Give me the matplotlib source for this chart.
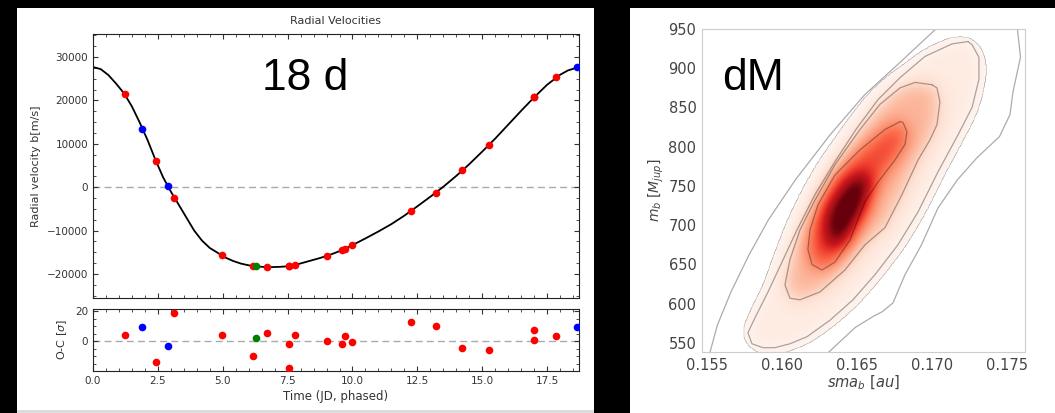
import numpy as np
import matplotlib.pyplot as plt
from matplotlib.patches import Rectangle
from matplotlib.path import Path
from matplotlib.ticker import AutoMinorLocator

W, H = 1055, 413

# radial velocity points: phase [d], RV [m/s], O-C [sigma], instrument colour
rv_t = [1.24, 1.90, 2.43, 2.88, 3.13, 4.97, 6.15, 6.28, 6.71, 7.55, 7.57, 7.80,
        9.02, 9.58, 9.70, 9.99, 12.24, 13.22, 14.23, 15.25, 16.99, 17.01, 17.85, 18.65]
rv_v = [21390, 13380, 6000, 300, -2380, -15690, -18230, -18230, -18390, -18230, -18230, -17840,
        -15850, -14540, -14230, -13380, -5540, -1230, 3850, 9620, 20700, 20700, 25380, 27620]
rv_oc = [4.0, 9.1, -13.6, -3.1, 18.9, 4.4, -9.6, 2.4, 5.6, -17.8, -2.0, 4.0,
         0.2, -1.6, 3.3, -0.4, 12.7, 10.2, -4.7, -6.0, 7.3, 0.7, 3.6, 9.1]
rv_col = ["red", "blue", "red", "blue", "red", "red", "red", "green", "red", "red", "red", "red",
          "red", "red", "red", "red", "red", "red", "red", "red", "red", "red", "red", "blue"]

# best-fit model curve
model_t = [0.0, 0.3, 0.6, 0.9, 1.2, 1.5, 1.8, 2.1, 2.4, 2.7, 3.0, 3.3, 3.6, 3.9, 4.2, 4.5,
           4.8, 5.1, 5.4, 5.7, 6.0, 6.3, 6.6, 6.9, 7.2, 7.5, 7.8, 8.1, 8.4, 8.7, 9.0, 9.3,
           9.6, 9.9, 10.5, 11.0, 11.5, 12.0, 12.5, 13.0, 13.5, 14.0, 14.5, 15.0, 15.5,
           16.0, 16.5, 17.0, 17.5, 18.0, 18.3, 18.73]
model_v = [27700, 27200, 25800, 23800, 21600, 18600, 14900, 10900, 6400, 2300, -1000, -4000,
           -7000, -10000, -12300, -14000, -15100, -16200, -17000, -17600, -18000, -18250,
           -18380, -18400, -18350, -18230, -17900, -17400, -16900, -16400, -15850, -15200,
           -14500, -13650, -11800, -10200, -8500, -6550, -4400, -2200, 100, 2600, 5300, 8200,
           11200, 14400, 17600, 20700, 23600, 25900, 26900, 27700]

# posterior contours (sma_b [au], m_b [M_jup])
c1_x = [0.1713, 0.1702, 0.1679, 0.1655, 0.1632, 0.1609, 0.1591, 0.1578, 0.1566, 0.1557,
        0.1552, 0.1549, 0.1625, 0.1631, 0.1649, 0.1661, 0.1667, 0.1674, 0.1682, 0.1693,
        0.1704, 0.1717, 0.1730, 0.1745, 0.1752, 0.1754, 0.1759, 0.1757, 0.1755]
c1_y = [970, 949, 908, 866, 815, 758, 707, 662, 615, 573, 538, 520, 520, 538, 570, 584,
        590, 601, 637, 675, 722, 758, 786, 813, 841, 870, 914, 949, 970]
c2_x = [0.17240, 0.17133, 0.16953, 0.16787, 0.16640, 0.16493, 0.16353, 0.16220, 0.16100,
        0.16000, 0.15907, 0.15820, 0.15773, 0.15800, 0.15873, 0.15953, 0.16053, 0.16167,
        0.16320, 0.16473, 0.16620, 0.16773, 0.16907, 0.17040, 0.17173, 0.17267, 0.17313,
        0.17313, 0.17267]
c2_y = [934, 931, 915, 888, 860, 822, 781, 739, 694, 653, 615, 582, 563, 549, 544, 544,
        549, 558, 579, 605, 637, 675, 717, 768, 815, 850, 886, 914, 930]
c3_x = [0.17000, 0.16887, 0.16787, 0.16653, 0.16520, 0.16353, 0.16220, 0.16120, 0.16053,
        0.16020, 0.16053, 0.16120, 0.16253, 0.16420, 0.16553, 0.16687, 0.16800, 0.16907,
        0.16987, 0.17033, 0.17053, 0.17033]
c3_y = [879, 882, 875, 854, 822, 777, 732, 694, 656, 624, 607, 605, 615, 643, 675, 697,
        739, 783, 809, 828, 857, 875]
c4_x = [0.16787, 0.16687, 0.16520, 0.16353, 0.16240, 0.16187, 0.16173, 0.16200, 0.16267,
        0.16353, 0.16453, 0.16553, 0.16640, 0.16753, 0.16820, 0.16833, 0.16807]
c4_y = [832, 822, 796, 764, 726, 694, 669, 650, 643, 653, 681, 730, 755, 783, 803, 819, 831]
core_x = [0.16307, 0.16293, 0.16353, 0.16453, 0.16560, 0.16600, 0.16553, 0.16453, 0.16373]
core_y = [675, 709, 735, 758, 768, 752, 720, 688, 671]

fig = plt.figure(figsize=(W / 100, H / 100), dpi=100, facecolor="black")
fig.add_artist(Rectangle((17 / W, 0), 577 / W, 405 / H, transform=fig.transFigure,
                         facecolor="white", edgecolor="none", zorder=0))
fig.add_artist(Rectangle((17 / W, 0), 577 / W, 3 / H, transform=fig.transFigure,
                         facecolor="#dcdcdc", edgecolor="none", zorder=0))
fig.add_artist(Rectangle((630 / W, 0), 425 / W, 405 / H, transform=fig.transFigure,
                         facecolor="white", edgecolor="none", zorder=0))

tc = "#333333"

# ---- radial velocity panel
ax1 = fig.add_axes([93 / W, (H - 298) / H, 486 / W, 264 / H])
ax2 = fig.add_axes([93 / W, (H - 371) / H, 486 / W, 62 / H], sharex=ax1)

ax1.plot(model_t, model_v, color="black", lw=1.3, zorder=2)
ax1.axhline(0, color="#aaaaaa", ls="--", lw=1, dashes=(5, 3), zorder=1)
ax2.axhline(0, color="#aaaaaa", ls="--", lw=1, dashes=(5, 3), zorder=1)
for c in ["red", "blue", "green"]:
    idx = [i for i, cc in enumerate(rv_col) if cc == c]
    ax1.plot([rv_t[i] for i in idx], [rv_v[i] for i in idx], "o", color=c, ms=5.5,
             mec="none", zorder=3)
    ax2.plot([rv_t[i] for i in idx], [rv_oc[i] for i in idx], "o", color=c, ms=5.5,
             mec="none", zorder=3)

ax1.set_xlim(0, 18.73)
ax1.set_ylim(-25530, 35300)
ax2.set_ylim(-19.7, 21.3)
ax2.set_yticks([0, 20])
ax1.set_xticks([0, 2.5, 5, 7.5, 10, 12.5, 15, 17.5])
ax1.set_yticks([-20000, -10000, 0, 10000, 20000, 30000])
for ax in (ax1, ax2):
    ax.xaxis.set_minor_locator(AutoMinorLocator(5))
    ax.yaxis.set_minor_locator(AutoMinorLocator(4))
    ax.tick_params(which="both", direction="in", top=True, right=True, labelsize=7.5,
                   labelcolor=tc, color="#333333")
    ax.tick_params(which="major", length=3.5)
    ax.tick_params(which="minor", length=2)
    for s in ax.spines.values():
        s.set_color("#222222")
ax1.tick_params(labelbottom=False)
ax1.set_title("Radial Velocities", fontsize=8, color=tc, pad=7)
ax1.set_ylabel("Radial velocity b[m/s]", fontsize=8, color=tc)
ax2.set_ylabel(r"O-C [$\sigma$]", fontsize=8, color=tc)
ax2.set_xlabel("Time (JD, phased)", fontsize=8.5, color=tc, labelpad=3)

# ---- posterior density panel
ax3 = fig.add_axes([702 / W, (H - 352) / H, 323 / W, 323 / H])
xl = (0.15467, 0.1762)
yl = (538.5, 950)
gx = np.linspace(xl[0], xl[1], 400)
gy = np.linspace(yl[0], yl[1], 400)
GX, GY = np.meshgrid(gx, gy)
pts = np.column_stack([GX.ravel(), GY.ravel()])
field = np.zeros(len(pts))
for px, py, lev in [(c2_x, c2_y, 0.06), (c3_x, c3_y, 0.27),
                    (c4_x, c4_y, 0.6), (core_x, core_y, 1.12)]:
    inside = Path(np.column_stack([px, py])).contains_points(pts)
    field[inside] = np.maximum(field[inside], lev)
field = field.reshape(GX.shape)
kern = np.exp(-0.5 * (np.arange(-36, 37) / 11.0) ** 2)
kern /= kern.sum()
field = np.apply_along_axis(lambda r: np.convolve(r, kern, mode="same"), 1, field)
field = np.apply_along_axis(lambda r: np.convolve(r, kern, mode="same"), 0, field)
field = np.ma.masked_less(field, 0.012)
ax3.imshow(field, extent=[xl[0], xl[1], yl[0], yl[1]], origin="lower", aspect="auto",
           cmap="Reds", vmin=0.0, vmax=1.0, interpolation="bilinear", zorder=1)

line_kw = dict(color="black", alpha=0.33, lw=0.9, zorder=2)
ax3.plot(c1_x[:12], c1_y[:12], **line_kw)
ax3.plot(c1_x[12:], c1_y[12:], **line_kw)
for px, py in [(c2_x, c2_y), (c3_x, c3_y), (c4_x, c4_y)]:
    ax3.plot(px + px[:1], py + py[:1], **line_kw)

ax3.set_xlim(*xl)
ax3.set_ylim(*yl)
ax3.set_xticks([0.155, 0.160, 0.165, 0.170, 0.175])
ax3.set_yticks([550, 600, 650, 700, 750, 800, 850, 900, 950])
ax3.tick_params(length=0, pad=4, labelsize=10.5, labelcolor="#444444")
for s in ax3.spines.values():
    s.set_color("#cccccc")
ax3.set_xlabel(r"$sma_b$ [$au$]", fontsize=10.5, color="#444444", labelpad=1)
ax3.set_ylabel(r"$m_b$ [$M_{jup}$]", fontsize=10, color="#444444", labelpad=2)

# slide labels
fig.text(262 / W, (H - 90) / H, "18 d", fontsize=32, family="Liberation Sans",
         color="black", ha="left", va="baseline")
fig.text(722 / W, (H - 90) / H, "dM", fontsize=32, family="Liberation Sans",
         color="black", ha="left", va="baseline")

fig.savefig("out.png", dpi=100, facecolor=fig.get_facecolor())
